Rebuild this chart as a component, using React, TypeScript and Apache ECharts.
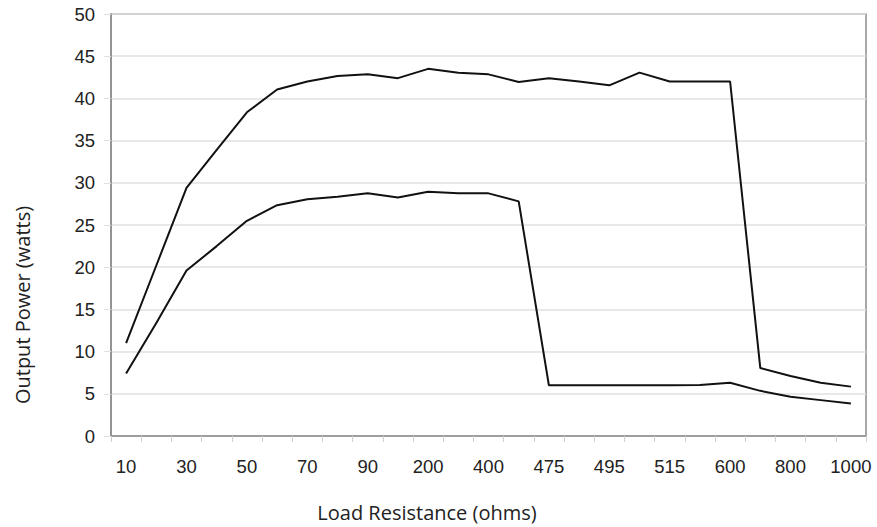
import React, { useEffect, useRef } from "react";
import * as echarts from "echarts";

const categories = ["10","20","30","40","50","60","70","80","90","100","200","300","400","450","475","485","495","505","515","550","600","700","800","900","1000"];
const upperSeries = [11.0, 20.2, 29.4, 33.9, 38.35, 41.05, 42.0, 42.65, 42.85, 42.4, 43.5, 43.05, 42.85, 41.95, 42.4, 42.0, 41.55, 43.05, 42.0, 42.0, 42.0, 8.05, 7.1, 6.3, 5.85];
const lowerSeries = [7.4, 13.4, 19.6, 22.5, 25.5, 27.35, 28.05, 28.35, 28.75, 28.25, 28.95, 28.75, 28.75, 27.8, 6.0, 6.0, 6.0, 6.0, 6.0, 6.05, 6.3, 5.35, 4.65, 4.25, 3.85];
const yTicks = { min: 0, max: 50, interval: 5 };
const xTitle = "Load Resistance (ohms)";
const yTitle = "Output Power (watts)";

export default function App() {
  const ref = useRef<HTMLDivElement>(null);
  useEffect(() => {
    if (!ref.current) return;
    const chart = echarts.init(ref.current, null, { renderer: "svg" });
    const nameStyle = { fontFamily: "Open Sans", fontSize: 20, fill: "#222" };
    chart.setOption({
      animation: false,
      backgroundColor: "#ffffff",
      grid: {
        left: 111, right: 11, top: 14, bottom: 91,
        show: true, borderColor: "#8c8c8c", borderWidth: 1.5, backgroundColor: "transparent",
      },
      graphic: [
        { type: "text", x: 427, y: 512, style: { text: xTitle, align: "center", verticalAlign: "middle", ...nameStyle } },
        { type: "text", x: 22, y: 305, rotation: Math.PI / 2, style: { text: yTitle, align: "center", verticalAlign: "middle", ...nameStyle } },
      ],
      xAxis: {
        type: "category",
        data: categories,
        boundaryGap: true,
        axisLine: { lineStyle: { color: "#8c8c8c", width: 1.5 } },
        axisTick: { show: true, interval: 0, length: 6, lineStyle: { color: "#d0d0d0" } },
        axisLabel: { interval: 1, margin: 21, fontFamily: "Liberation Sans", fontSize: 18.5, color: "#222" },
        splitLine: { show: false },
      },
      yAxis: {
        type: "value",
        min: yTicks.min, max: yTicks.max, interval: yTicks.interval,
        axisLine: { show: true, lineStyle: { color: "#8c8c8c", width: 1.5 } },
        axisTick: { show: true, length: 7, lineStyle: { color: "#e0e0e0" } },
        axisLabel: { margin: 16, fontFamily: "Liberation Sans", fontSize: 18.5, color: "#222" },
        splitLine: { show: true, lineStyle: { color: "#e0e0e0", width: 1.5 } },
      },
      series: [
        { type: "line", data: upperSeries, symbol: "none", lineStyle: { color: "#111", width: 2 } },
        { type: "line", data: lowerSeries, symbol: "none", lineStyle: { color: "#111", width: 2 } },
      ],
    });
    return () => chart.dispose();
  }, []);
  return <div ref={ref} style={{ position: "fixed", left: 0, top: 0, width: 877, height: 527 }} />;
}
